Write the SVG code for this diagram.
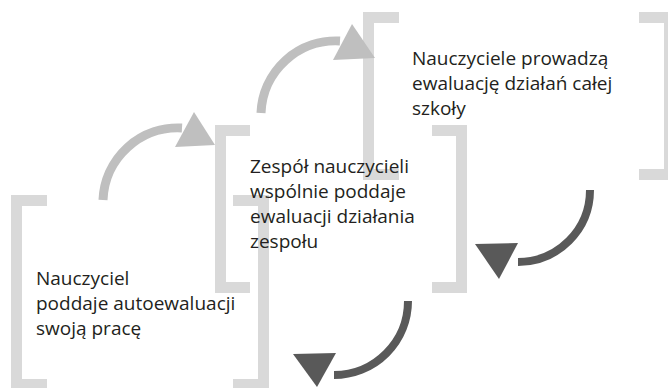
<svg xmlns="http://www.w3.org/2000/svg" width="668" height="388" viewBox="0 0 668 388">
<style>
.br{fill:none;stroke:#d9d9d9;stroke-width:11;stroke-linejoin:miter;stroke-linecap:butt}
.t{font-family:"Open Sans","Liberation Sans",sans-serif;font-size:19px;fill:#231f20}
.up{fill:none;stroke:#bfbfbf;stroke-width:9}
.uph{fill:#bfbfbf}
.dn{fill:none;stroke:#595959;stroke-width:8}
.dnh{fill:#595959}
</style>
<rect width="668" height="388" fill="#ffffff"/>
<g id="node-self">
<polyline class="br" points="47,200.5 16.5,200.5 16.5,384.5 47,384.5"/>
<polyline class="br" points="233,200.5 263.5,200.5 263.5,384.5 233,384.5"/>
<text class="t" x="36" y="285">Nauczyciel</text>
<text class="t" x="36" y="310">poddaje autoewaluacji</text>
<text class="t" x="36" y="335">swoją pracę</text>
</g>
<g id="node-school">
<polyline class="br" points="399,17.5 368.5,17.5 368.5,174.5 399,174.5"/>
<polyline class="br" points="639,17.5 669.5,17.5 669.5,174.5 639,174.5"/>
<text class="t" x="412" y="65">Nauczyciele prowadzą</text>
<text class="t" x="412" y="90">ewaluację działań całej</text>
<text class="t" x="412" y="115">szkoły</text>
</g>
<g id="node-team">
<polyline class="br" points="250,130.5 220.5,130.5 220.5,287.5 250,287.5"/>
<polyline class="br" points="432,130.5 461.5,130.5 461.5,287.5 432,287.5"/>
<text class="t" x="250" y="173">Zespół nauczycieli</text>
<text class="t" x="250" y="198">wspólnie poddaje</text>
<text class="t" x="250" y="223">ewaluacji działania</text>
<text class="t" x="250" y="248">zespołu</text>
</g>
<g id="connectors">
<path class="up" d="M103,200 A75,75 0 0 1 182,128"/>
<polygon class="uph" points="194,112 175,147 215,145"/>
<path class="up" d="M261,113 A75,75 0 0 1 340,41"/>
<polygon class="uph" points="352,24 333,60 375,58"/>
<path class="dn" d="M590,190 A72,72 0 0 1 518,262"/>
<polygon class="dnh" points="475,244 518,243 499,279"/>
<path class="dn" d="M408,301 A74,74 0 0 1 334,375"/>
<polygon class="dnh" points="293,354 336,353 317,387"/>
</g>
</svg>
